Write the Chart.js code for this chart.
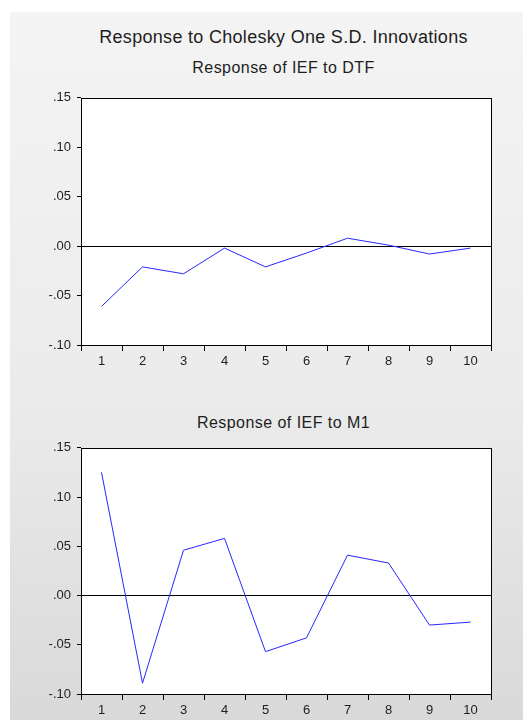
<!DOCTYPE html>
<html>
<head>
    <title>Response to Cholesky One S.D. Innovations</title>
    <style>
        * {
            margin: 0;
            padding: 0;
            box-sizing: border-box;
        }

        body {
            width: 523px;
            height: 720px;
            background: #fff;
            font-family: "Liberation Sans", Arial, sans-serif;
            overflow: hidden;
            position: relative;
        }

        /* painel cinza atrás dos gráficos */
        .panel {
            position: absolute;
            left: 10px;
            top: 12px;
            width: 513px;
            height: 708px;
            background: linear-gradient(#f4f4f4, #ebebeb 55%, #d9d9d9);
        }

        .title {
            position: absolute;
            left: 0;
            width: 567px;
            text-align: center;
            color: #1e1e1e;
            line-height: 1;
            white-space: nowrap;
        }

        .main-title {
            top: 28px;
            font-size: 18px;
            letter-spacing: 0.3px;
        }

        .sub-title {
            font-size: 16px;
            letter-spacing: 0.45px;
        }

        .chart-box {
            position: absolute;
            left: 0;
            width: 523px;
        }

        canvas {
            display: block;
        }
    </style>
</head>
<body>
    <div class="panel"></div>
    <div class="title main-title">Response to Cholesky One S.D. Innovations</div>
    <div class="title sub-title" style="top: 60px;">Response of IEF to DTF</div>
    <div class="title sub-title" style="top: 415px;">Response of IEF to M1</div>

    <div class="chart-box" style="top: 84px; height: 296px;">
        <canvas id="chartDTF" width="523" height="296"></canvas>
    </div>
    <div class="chart-box" style="top: 434px; height: 286px;">
        <canvas id="chartM1" width="523" height="286"></canvas>
    </div>

    <script src="https://cdn.jsdelivr.net/npm/chart.js"></script>
    <script>
        // Períodos e respostas ao impulso
        var periods = ['1', '2', '3', '4', '5', '6', '7', '8', '9', '10'];
        var responseDTF = [-0.061, -0.021, -0.028, -0.002, -0.021, -0.007, 0.008, 0.001, -0.008, -0.002];
        var responseM1 = [0.125, -0.089, 0.046, 0.058, -0.057, -0.043, 0.041, 0.033, -0.030, -0.027];
        var yTicks = [-0.10, -0.05, 0.00, 0.05, 0.10, 0.15];

        // Fundo branco e moldura preta da área do gráfico
        var plotFrame = {
            id: 'plotFrame',
            beforeDraw: function (chart) {
                var a = chart.chartArea;
                var ctx = chart.ctx;
                ctx.save();
                ctx.fillStyle = '#ffffff';
                ctx.fillRect(a.left, a.top, a.right - a.left, a.bottom - a.top);
                ctx.restore();
            },
            afterDraw: function (chart) {
                var a = chart.chartArea;
                var ctx = chart.ctx;
                ctx.save();
                ctx.strokeStyle = '#000000';
                ctx.lineWidth = 1;
                ctx.strokeRect(Math.round(a.left) + 0.5, Math.round(a.top) + 0.5,
                    Math.round(a.right - a.left), Math.round(a.bottom - a.top));
                ctx.restore();
            }
        };

        function makeChart(id, values, bottomPad, xHeight) {
            var ctx = document.getElementById(id).getContext('2d');
            return new Chart(ctx, {
                type: 'line',
                data: {
                    labels: periods,
                    datasets: [{
                        data: values,
                        borderColor: 'rgb(40, 40, 255)',
                        borderWidth: 1,
                        pointRadius: 0,
                        tension: 0,
                        fill: false
                    }]
                },
                options: {
                    responsive: false,
                    animation: false,
                    events: [],
                    layout: {
                        padding: { left: 10, right: 32, top: 7, bottom: bottomPad }
                    },
                    plugins: {
                        legend: { display: false },
                        tooltip: { enabled: false }
                    },
                    scales: {
                        x: {
                            type: 'category',
                            offset: true,
                            border: { display: false },
                            grid: {
                                offset: true,
                                drawOnChartArea: false,
                                color: '#000000',
                                tickColor: '#000000',
                                tickLength: 6
                            },
                            ticks: {
                                color: '#1e1e1e',
                                padding: 3,
                                maxRotation: 0,
                                font: { family: '"Liberation Sans", Arial, sans-serif', size: 13 }
                            },
                            afterFit: function (scale) { scale.height = xHeight; }
                        },
                        y: {
                            min: yTicks[0],
                            max: yTicks[yTicks.length - 1],
                            border: { display: false },
                            afterBuildTicks: function (scale) {
                                scale.ticks = yTicks.map(function (v) { return { value: v }; });
                            },
                            grid: {
                                color: function (c) {
                                    return (c.tick && Math.abs(c.tick.value) < 1e-9) ? '#000000' : 'rgba(0,0,0,0)';
                                },
                                tickColor: '#000000',
                                tickLength: 4,
                                lineWidth: 1
                            },
                            ticks: {
                                color: '#1e1e1e',
                                padding: 6,
                                font: { family: '"Liberation Sans", Arial, sans-serif', size: 13 },
                                callback: function (v) {
                                    return Number(v).toFixed(2).replace('0.', '.');
                                }
                            },
                            afterFit: function (scale) { scale.width = 71; }
                        }
                    }
                },
                plugins: [plotFrame]
            });
        }

        makeChart('chartDTF', responseDTF, 5, 30);
        makeChart('chartM1', responseM1, 0, 26);
    </script>
</body>
</html>
